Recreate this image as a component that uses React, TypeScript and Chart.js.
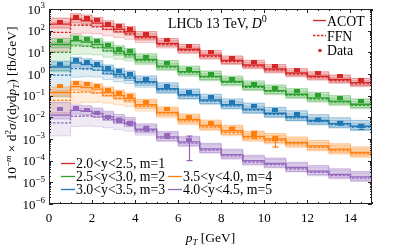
import React, { useEffect, useRef } from 'react';
import { Chart, registerables } from 'chart.js';

Chart.register(...registerables);

const FONT = "'Liberation Serif', 'DejaVu Serif', serif";

// pT bin edges [GeV]
const binEdges = [0, 1, 1.5, 2, 2.5, 3, 3.5, 4, 5, 6, 7, 8, 9, 10, 11, 12, 13, 14, 15];
const xTickValues = [0, 2, 4, 6, 8, 10, 12, 14];
const yTickExponents = [-6, -5, -4, -3, -2, -1, 0, 1, 2, 3];

const seriesLabels = ['2.0<y<2.5, m=1', '2.5<y<3.0, m=2', '3.0<y<3.5, m=3', '3.5<y<4.0, m=4', '4.0<y<4.5, m=5'];
const seriesColors = ['#d62728', '#2ca02c', '#1f77b4', '#ff7f0e', '#9467bd'];

// 2.0<y<2.5
const redData = [263, 437, 380, 295, 214, 158, 120, 72, 36, 19, 10, 5.5, 3.6, 2.3, 1.5, 1.1, 0.78, 0.52];
const redAcot = [200, 331, 288, 224, 158, 117, 89, 52, 26, 13.8, 7.4, 4.2, 2.6, 1.7, 1.12, 0.79, 0.56, 0.4];
const redAcotLo = [132, 229, 200, 155, 110, 81, 62, 37, 19, 10, 5.4, 3.0, 1.9, 1.23, 0.81, 0.58, 0.41, 0.29];
const redAcotHi = [380, 603, 525, 407, 288, 209, 155, 91, 44, 23, 12, 6.8, 4.3, 2.75, 1.78, 1.26, 0.89, 0.63];
const redFfn = [83, 182, 178, 151, 115, 91, 72, 46, 23, 12.3, 6.6, 3.7, 2.3, 1.5, 1.0, 0.71, 0.5, 0.35];
const redFfnLo = [11, 71, 76, 71, 58, 48, 40, 28, 16, 8.7, 4.8, 2.75, 1.74, 1.12, 0.74, 0.52, 0.37, 0.26];
const redFfnHi = [251, 398, 363, 288, 209, 158, 120, 72, 35, 18, 9.5, 5.4, 3.4, 2.2, 1.41, 1.0, 0.71, 0.5];
const redErrLo: (number | null)[] = [];
const redErrHi: (number | null)[] = [];

// 2.5<y<3.0
const greenData = [32, 46, 40, 32, 21, 15, 11, 6.3, 3.2, 1.74, 1.05, 0.6, 0.36, 0.23, 0.16, 0.107, 0.076, 0.054];
const greenAcot = [23, 34, 30, 23, 16, 11, 8.1, 4.7, 2.3, 1.29, 0.78, 0.45, 0.27, 0.17, 0.117, 0.079, 0.056, 0.04];
const greenAcotLo = [16, 23, 20, 16, 10.7, 7.4, 5.5, 3.2, 1.66, 0.91, 0.55, 0.32, 0.19, 0.123, 0.083, 0.056, 0.04, 0.028];
const greenAcotHi = [44, 63, 55, 44, 30, 20, 15, 8.5, 4.2, 2.3, 1.38, 0.79, 0.48, 0.31, 0.21, 0.141, 0.1, 0.071];
const greenFfn = [10, 20, 19, 16.6, 12, 8.9, 6.9, 4.2, 2.1, 1.17, 0.71, 0.41, 0.245, 0.158, 0.107, 0.072, 0.051, 0.036];
const greenFfnLo = [1.26, 7.9, 8.3, 7.6, 6.0, 4.8, 4.0, 2.7, 1.45, 0.79, 0.49, 0.28, 0.17, 0.11, 0.074, 0.05, 0.035, 0.025];
const greenFfnHi = [30, 42, 38, 32, 22, 16, 11.7, 6.6, 3.2, 1.78, 1.07, 0.62, 0.37, 0.24, 0.162, 0.11, 0.078, 0.055];
const greenErrLo: (number | null)[] = [];
const greenErrHi: (number | null)[] = [];

// 3.0<y<3.5
const blueData = [2.8, 4.3, 3.6, 2.95, 1.9, 1.32, 1.0, 0.59, 0.28, 0.148, 0.085, 0.051, 0.032, 0.021, 0.0138, 0.0079, 0.0054, 0.0038];
const blueAcot = [2.1, 3.2, 2.7, 2.2, 1.41, 0.98, 0.74, 0.44, 0.21, 0.11, 0.063, 0.038, 0.024, 0.0155, 0.0107, 0.0071, 0.0051, 0.0039];
const blueAcotLo = [1.41, 2.1, 1.82, 1.48, 0.95, 0.66, 0.5, 0.3, 0.141, 0.074, 0.043, 0.026, 0.0162, 0.0105, 0.0072, 0.0048, 0.0035, 0.0026];
const blueAcotHi = [3.9, 5.9, 5.0, 4.1, 2.6, 1.82, 1.38, 0.81, 0.39, 0.204, 0.117, 0.071, 0.045, 0.029, 0.02, 0.0132, 0.0095, 0.0072];
const blueFfn = [0.89, 1.78, 1.7, 1.51, 1.07, 0.79, 0.63, 0.39, 0.186, 0.098, 0.056, 0.034, 0.0214, 0.0138, 0.0095, 0.0063, 0.0046, 0.0035];
const blueFfnLo = [0.089, 0.71, 0.76, 0.72, 0.56, 0.44, 0.36, 0.245, 0.126, 0.069, 0.04, 0.024, 0.0151, 0.0098, 0.0068, 0.0045, 0.0032, 0.0025];
const blueFfnHi = [2.6, 3.8, 3.3, 2.75, 1.86, 1.32, 1.0, 0.6, 0.29, 0.151, 0.087, 0.052, 0.033, 0.0214, 0.0148, 0.0098, 0.0071, 0.0054];
const blueErrLo = [null, null, null, null, null, null, null, null, null, null, null, null, null, null, null, 0.0066, 0.0043, 0.00275];
const blueErrHi = [null, null, null, null, null, null, null, null, null, null, null, null, null, null, null, 0.0093, 0.0065, 0.0048];

// 3.5<y<4.0
const orangeData = [0.28, 0.4, 0.34, 0.275, 0.19, 0.132, 0.1, 0.05, 0.023, 0.0105, 0.0054, 0.003, 0.00166, 0.001];
const orangeAcot = [0.141, 0.263, 0.24, 0.2, 0.141, 0.1, 0.074, 0.038, 0.017, 0.0079, 0.0042, 0.0024, 0.00132, 0.001, 0.00069, 0.00048, 0.00034, 0.00024];
const orangeAcotLo = [0.095, 0.178, 0.162, 0.135, 0.095, 0.068, 0.05, 0.026, 0.0115, 0.0054, 0.0028, 0.00162, 0.00089, 0.00068, 0.00047, 0.00032, 0.00023, 0.000162];
const orangeAcotHi = [0.25, 0.47, 0.43, 0.355, 0.25, 0.178, 0.132, 0.068, 0.03, 0.0141, 0.0074, 0.0043, 0.0023, 0.00178, 0.00123, 0.00085, 0.0006, 0.00043];
const orangeFfn = [0.06, 0.141, 0.145, 0.132, 0.102, 0.076, 0.059, 0.032, 0.0145, 0.0068, 0.0035, 0.002, 0.00112, 0.00085, 0.00059, 0.00041, 0.00029, 0.000204];
const orangeFfnLo = [0.0141, 0.045, 0.05, 0.05, 0.045, 0.038, 0.032, 0.0195, 0.0095, 0.0046, 0.00245, 0.00141, 0.00078, 0.00059, 0.00041, 0.00028, 0.0002, 0.000141];
const orangeFfnHi = [0.178, 0.355, 0.33, 0.28, 0.2, 0.141, 0.107, 0.055, 0.0245, 0.0115, 0.006, 0.0035, 0.0019, 0.00145, 0.001, 0.00069, 0.00049, 0.00035];
const orangeErrLo = [null, null, null, null, null, null, null, null, null, null, null, 0.0026, 0.00107, 0.00042];
const orangeErrHi = [null, null, null, null, null, null, null, null, null, null, null, 0.0035, 0.00224, 0.00132];

// 4.0<y<4.5
const purpleData = [0.0234, 0.028, 0.0219, 0.0158, 0.0107, 0.0072, 0.0052, 0.003, 0.00141, 0.00089];
const purpleAcot = [0.0126, 0.0209, 0.0191, 0.0151, 0.0107, 0.0076, 0.0055, 0.0028, 0.00126, 0.00074, 0.00035, 0.00019, 0.0001, 0.000074, 0.000048, 0.000033, 0.0000234, 0.0000178];
const purpleAcotLo = [0.0085, 0.0141, 0.0129, 0.0102, 0.0072, 0.0051, 0.0037, 0.0019, 0.00085, 0.0005, 0.00024, 0.000129, 0.000068, 0.00005, 0.000032, 0.0000224, 0.0000158, 0.000012];
const purpleAcotHi = [0.048, 0.037, 0.034, 0.027, 0.019, 0.0135, 0.0098, 0.005, 0.00224, 0.00132, 0.00063, 0.00034, 0.000178, 0.000132, 0.000085, 0.000059, 0.000042, 0.000032];
const purpleFfn = [0.0056, 0.0112, 0.0115, 0.0105, 0.0081, 0.006, 0.0047, 0.0024, 0.0011, 0.00065, 0.00031, 0.000166, 0.000087, 0.000065, 0.000042, 0.000029, 0.0000204, 0.0000155];
const purpleFfnLo = [0.0014, 0.0038, 0.004, 0.0038, 0.0033, 0.00275, 0.0023, 0.0015, 0.00076, 0.00044, 0.00022, 0.000117, 0.000062, 0.000046, 0.00003, 0.00002, 0.0000145, 0.000011];
const purpleFfnHi = [0.0166, 0.028, 0.026, 0.0219, 0.0158, 0.0112, 0.0083, 0.0043, 0.00195, 0.00115, 0.00055, 0.0003, 0.000155, 0.000115, 0.000074, 0.000051, 0.000036, 0.0000275];
const purpleErrLo = [null, null, null, null, null, 0.0058, 0.0042, 0.0023, 0.00107, 0.0001];
const purpleErrHi = [null, null, null, null, null, 0.0091, 0.0066, 0.0038, 0.00178, 0.00135];

const series = [
  { data: redData, acot: redAcot, acotLo: redAcotLo, acotHi: redAcotHi, ffn: redFfn, ffnLo: redFfnLo, ffnHi: redFfnHi, errLo: redErrLo, errHi: redErrHi },
  { data: greenData, acot: greenAcot, acotLo: greenAcotLo, acotHi: greenAcotHi, ffn: greenFfn, ffnLo: greenFfnLo, ffnHi: greenFfnHi, errLo: greenErrLo, errHi: greenErrHi },
  { data: blueData, acot: blueAcot, acotLo: blueAcotLo, acotHi: blueAcotHi, ffn: blueFfn, ffnLo: blueFfnLo, ffnHi: blueFfnHi, errLo: blueErrLo, errHi: blueErrHi },
  { data: orangeData, acot: orangeAcot, acotLo: orangeAcotLo, acotHi: orangeAcotHi, ffn: orangeFfn, ffnLo: orangeFfnLo, ffnHi: orangeFfnHi, errLo: orangeErrLo, errHi: orangeErrHi },
  { data: purpleData, acot: purpleAcot, acotLo: purpleAcotLo, acotHi: purpleAcotHi, ffn: purpleFfn, ffnLo: purpleFfnLo, ffnHi: purpleFfnHi, errLo: purpleErrLo, errHi: purpleErrHi },
];

const binCenters = binEdges.slice(0, -1).map((e, i) => (e + binEdges[i + 1]) / 2);

function rgba(hex: string, a: number) {
  const n = parseInt(hex.slice(1), 16);
  return `rgba(${(n >> 16) & 255},${(n >> 8) & 255},${n & 255},${a})`;
}

function stepPoints(vals: number[]) {
  return binEdges.map((e, i) => ({ x: e, y: vals[Math.min(i, vals.length - 1)] }));
}

function makeMarker(color: string) {
  const c = document.createElement('canvas');
  c.width = 6;
  c.height = 4;
  const g = c.getContext('2d')!;
  g.fillStyle = color;
  g.fillRect(0, 0, 6, 4);
  return c;
}

type Seg = { t: string; it?: boolean; sup?: boolean; sub?: boolean };

function drawRich(ctx: CanvasRenderingContext2D, segs: Seg[], x: number, y: number, size: number, align: 'left' | 'center' | 'right') {
  const fontFor = (s: Seg) => `${s.it ? 'italic ' : ''}${s.sup || s.sub ? Math.round(size * 0.7) : size}px ${FONT}`;
  let w = 0;
  const widths = segs.map((s) => {
    ctx.font = fontFor(s);
    const m = ctx.measureText(s.t).width;
    w += m;
    return m;
  });
  let cx = align === 'left' ? x : align === 'right' ? x - w : x - w / 2;
  ctx.textAlign = 'left';
  ctx.textBaseline = 'alphabetic';
  segs.forEach((s, i) => {
    ctx.font = fontFor(s);
    const dy = s.sup ? -size * 0.4 : s.sub ? size * 0.22 : 0;
    ctx.fillText(s.t, cx, y + dy);
    cx += widths[i];
  });
}

const decorPlugin = {
  id: 'decor',
  afterDatasetsDraw(chart: any) {
    const { ctx, scales } = chart;
    const x = scales.x;
    const y = scales.y;
    ctx.save();
    // error bars
    series.forEach((s, si) => {
      s.errLo.forEach((lo, i) => {
        const hi = s.errHi[i];
        if (lo == null || hi == null) return;
        const px = Math.round(x.getPixelForValue(binCenters[i])) + 0.5;
        const p1 = y.getPixelForValue(lo);
        const p2 = y.getPixelForValue(hi);
        ctx.strokeStyle = seriesColors[si];
        ctx.lineWidth = 1.2;
        ctx.beginPath();
        ctx.moveTo(px, p1);
        ctx.lineTo(px, p2);
        ctx.moveTo(px - 3, p1);
        ctx.lineTo(px + 3, p1);
        ctx.moveTo(px - 3, p2);
        ctx.lineTo(px + 3, p2);
        ctx.stroke();
      });
    });
    ctx.restore();
  },
  afterDraw(chart: any) {
    const { ctx, chartArea: a, scales } = chart;
    const x = scales.x;
    const y = scales.y;
    ctx.save();
    ctx.fillStyle = '#000';
    ctx.strokeStyle = '#222';
    ctx.lineWidth = 1;
    // frame
    ctx.strokeRect(a.left + 0.5, a.top + 0.5, a.right - a.left - 1, a.bottom - a.top - 1);
    // x ticks (inward, bottom and top)
    ctx.beginPath();
    for (let v = 0; v <= 15; v += 0.5) {
      const px = Math.round(x.getPixelForValue(v)) + 0.5;
      const len = xTickValues.includes(v) ? 4 : 2;
      ctx.moveTo(px, a.bottom);
      ctx.lineTo(px, a.bottom - len);
      ctx.moveTo(px, a.top);
      ctx.lineTo(px, a.top + len);
    }
    // y ticks (inward, left and right)
    yTickExponents.forEach((k) => {
      for (let m = 1; m <= 9; m++) {
        const v = m * Math.pow(10, k);
        if (v > 1000.0001) continue;
        const py = Math.round(y.getPixelForValue(v)) + 0.5;
        const len = m === 1 ? 4 : 2;
        ctx.moveTo(a.left, py);
        ctx.lineTo(a.left + len, py);
        ctx.moveTo(a.right, py);
        ctx.lineTo(a.right - len, py);
      }
    });
    ctx.stroke();

    // y tick labels
    yTickExponents.forEach((k) => {
      const py = y.getPixelForValue(Math.pow(10, k));
      const exp = k < 0 ? '\u2212' + String(-k) : String(k);
      drawRich(ctx, [{ t: '10' }, { t: exp, sup: true }], a.left - 4, py + 4.5, 13, 'right');
    });

    // axis titles
    drawRich(ctx, [{ t: 'p', it: true }, { t: 'T', sub: true, it: true }, { t: ' [GeV]' }], (a.left + a.right) / 2, 242, 13.5, 'center');
    ctx.save();
    ctx.translate(16, (a.top + a.bottom) / 2 - 3);
    ctx.rotate(-Math.PI / 2);
    drawRich(
      ctx,
      [
        { t: '10' }, { t: '\u2212', sup: true }, { t: 'm', sup: true, it: true }, { t: ' \u00d7 d' }, { t: '2', sup: true },
        { t: '\u03c3', it: true }, { t: '/(d' }, { t: 'y', it: true }, { t: 'd' }, { t: 'p', it: true }, { t: 'T', sub: true, it: true },
        { t: ') [fb/GeV]' },
      ],
      0, 0, 13.5, 'center'
    );
    ctx.restore();

    // experiment label
    drawRich(ctx, [{ t: 'LHCb 13 TeV, ' }, { t: 'D', it: true }, { t: '0', sup: true }], 168, 28, 13.8, 'left');

    // legend (top right)
    const red = seriesColors[0];
    ctx.strokeStyle = red;
    ctx.lineWidth = 1.3;
    ctx.beginPath();
    ctx.moveTo(313, 20.5);
    ctx.lineTo(326, 20.5);
    ctx.stroke();
    ctx.setLineDash([2.5, 1.5]);
    ctx.beginPath();
    ctx.moveTo(313, 35.5);
    ctx.lineTo(326, 35.5);
    ctx.stroke();
    ctx.setLineDash([]);
    ctx.fillStyle = red;
    ctx.beginPath();
    ctx.arc(320, 50.5, 1.8, 0, Math.PI * 2);
    ctx.fill();
    ctx.fillStyle = '#000';
    drawRich(ctx, [{ t: 'ACOT' }], 327, 25.5, 13.8, 'left');
    drawRich(ctx, [{ t: 'FFN' }], 327, 40.5, 13.8, 'left');
    drawRich(ctx, [{ t: 'Data' }], 327, 55, 13.8, 'left');

    // legend (bottom left, two columns)
    const pos = [
      [61, 163], [61, 176], [61, 189], [168, 176], [168, 189],
    ];
    seriesLabels.forEach((lab, i) => {
      const [lx, ly] = pos[i];
      ctx.strokeStyle = seriesColors[i];
      ctx.lineWidth = 1.3;
      ctx.beginPath();
      ctx.moveTo(lx, ly + 0.5);
      ctx.lineTo(lx + 14, ly + 0.5);
      ctx.stroke();
      ctx.fillStyle = '#000';
      drawRich(ctx, [{ t: lab }], lx + 15, ly + 4.8, 13.8, 'left');
    });
    ctx.restore();
  },
};

export default function App() {
  const ref = useRef<HTMLCanvasElement>(null);
  useEffect(() => {
    const datasets: any[] = [];
    series.forEach((s, si) => {
      const c = seriesColors[si];
      datasets.push({ data: stepPoints(s.ffnLo), stepped: 'before', borderColor: rgba(c, 0.3), borderWidth: 0.8, pointRadius: 0, fill: false, order: 4 });
      datasets.push({ data: stepPoints(s.ffnHi), stepped: 'before', borderColor: rgba(c, 0.3), borderWidth: 0.8, pointRadius: 0, fill: '-1', backgroundColor: rgba(c, 0.14), order: 4 });
      datasets.push({ data: stepPoints(s.acotLo), stepped: 'before', borderColor: rgba(c, 0.4), borderWidth: 1, pointRadius: 0, fill: false, order: 3 });
      datasets.push({ data: stepPoints(s.acotHi), stepped: 'before', borderColor: rgba(c, 0.4), borderWidth: 1, pointRadius: 0, fill: '-1', backgroundColor: rgba(c, 0.25), order: 3 });
      datasets.push({ data: stepPoints(s.acot), stepped: 'before', borderColor: c, borderWidth: 1.4, pointRadius: 0, fill: false, order: 2 });
      datasets.push({ data: stepPoints(s.ffn), stepped: 'before', borderColor: c, borderWidth: 1.3, borderDash: [2.5, 1.5], pointRadius: 0, fill: false, order: 2 });
      datasets.push({
        data: s.data.map((v, i) => ({ x: binCenters[i], y: v })),
        showLine: false,
        pointStyle: makeMarker(c),
        pointRadius: 3,
        fill: false,
        order: 1,
      });
    });

    const chart = new Chart(ref.current!, {
      type: 'line',
      data: { datasets },
      options: {
        responsive: false,
        maintainAspectRatio: false,
        animation: false,
        devicePixelRatio: 1,
        layout: { padding: { left: 8, right: 27, top: 9, bottom: 0 } },
        plugins: { legend: { display: false }, tooltip: { enabled: false } },
        scales: {
          x: {
            type: 'linear',
            min: 0,
            max: 15,
            grid: { display: false, drawTicks: false },
            border: { display: false },
            afterBuildTicks: (s: any) => {
              s.ticks = xTickValues.map((v) => ({ value: v }));
            },
            afterFit: (s: any) => {
              s.height = 44;
            },
            ticks: { color: '#000', font: { family: FONT, size: 13 }, padding: 7, maxRotation: 0, autoSkip: false },
          },
          y: {
            type: 'logarithmic',
            min: 1e-6,
            max: 1e3,
            grid: { display: false, drawTicks: false },
            border: { display: false },
            ticks: { display: false },
            afterFit: (s: any) => {
              s.width = 41;
            },
          },
        },
      } as any,
      plugins: [decorPlugin],
    });
    return () => chart.destroy();
  }, []);

  return (
    <div style={{ position: 'absolute', left: 0, top: 0, width: 399, height: 248, background: '#fff' }}>
      <canvas ref={ref} width={399} height={248} style={{ display: 'block' }} />
    </div>
  );
}
